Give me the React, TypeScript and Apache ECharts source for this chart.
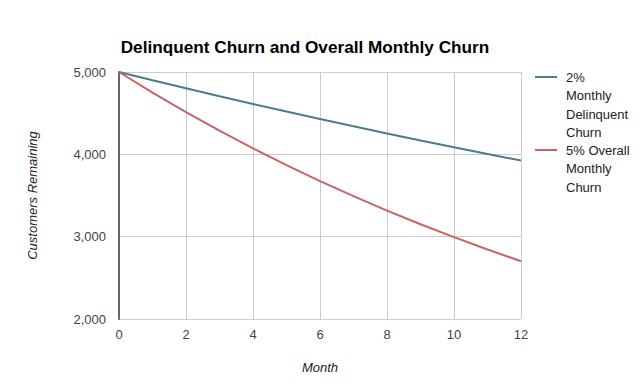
import React, { useEffect, useRef } from "react";
import * as echarts from "echarts";

const months = [0, 1, 2, 3, 4, 5, 6, 7, 8, 9, 10, 11, 12];
const delinquent = [5000, 4900, 4802, 4706, 4612, 4520, 4429, 4341, 4254, 4169, 4085, 4004, 3924];
const overall = [5000, 4750, 4513, 4287, 4073, 3869, 3675, 3492, 3317, 3151, 2994, 2844, 2702];
const seriesNames = ["2% Monthly Delinquent Churn", "5% Overall Monthly Churn"];
const legendLines = [["2%", "Monthly", "Delinquent", "Churn"], ["5% Overall", "Monthly", "Churn"]];
const colors = ["#4a7d8b", "#c96464"];

export default function App() {
  const ref = useRef<HTMLDivElement>(null);
  useEffect(() => {
    const chart = echarts.init(ref.current!, undefined, { renderer: "svg" });
    const font = "Arial, 'Liberation Sans', sans-serif";
    const legendGraphics: any[] = [];
    const starts = [77, 150];
    legendLines.forEach((lines, i) => {
      legendGraphics.push({
        type: "line",
        shape: { x1: 535, y1: starts[i], x2: 557, y2: starts[i] },
        style: { stroke: colors[i], lineWidth: 2 },
      });
      legendGraphics.push({
        type: "text",
        x: 566,
        y: starts[i] - 9,
        style: {
          text: lines.join("\n"),
          fill: "#222",
          font: `13px ${font}`,
          lineHeight: 18.5,
          verticalAlign: "top",
        },
      });
    });
    chart.setOption({
      animation: false,
      backgroundColor: "#fff",
      title: {
        text: "Delinquent Churn and Overall Monthly Churn",
        left: 300,
        top: 33,
        textAlign: "center",
        textStyle: { fontFamily: font, fontSize: 17.2, fontWeight: "bold", color: "#000" },
      },
      grid: { left: 119, right: 119, top: 72, bottom: 73 },
      xAxis: {
        type: "value",
        min: 0,
        max: 12,
        interval: 2,
        name: "Month",
        nameLocation: "middle",
        nameGap: 42,
        nameTextStyle: { fontFamily: font, fontSize: 13, fontStyle: "italic", color: "#222" },
        axisLine: { show: false },
        axisTick: { show: false },
        axisLabel: { fontFamily: font, fontSize: 13, color: "#444", margin: 9 },
        splitLine: { show: true, lineStyle: { color: "#ccc", width: 1 } },
      },
      yAxis: {
        type: "value",
        min: 2000,
        max: 5000,
        interval: 1000,
        name: "Customers Remaining",
        nameLocation: "middle",
        nameGap: 80,
        nameTextStyle: { fontFamily: font, fontSize: 13, fontStyle: "italic", color: "#222" },
        axisLine: { show: true, onZero: false, lineStyle: { color: "#666", width: 2 } },
        axisTick: { show: false },
        axisLabel: {
          fontFamily: font,
          fontSize: 13,
          color: "#444",
          margin: 13,
          formatter: (v: number) => v.toLocaleString("en-US"),
        },
        splitLine: { show: true, lineStyle: { color: "#ccc", width: 1 } },
      },
      series: [
        {
          name: seriesNames[0],
          type: "line",
          data: months.map((m, i) => [m, delinquent[i]]),
          showSymbol: false,
          lineStyle: { color: colors[0], width: 2 },
          itemStyle: { color: colors[0] },
        },
        {
          name: seriesNames[1],
          type: "line",
          data: months.map((m, i) => [m, overall[i]]),
          showSymbol: false,
          lineStyle: { color: colors[1], width: 2 },
          itemStyle: { color: colors[1] },
        },
      ],
      graphic: legendGraphics,
    });
    return () => chart.dispose();
  }, []);
  return <div ref={ref} style={{ width: 640, height: 392, position: "absolute", left: 0, top: 0 }} />;
}
